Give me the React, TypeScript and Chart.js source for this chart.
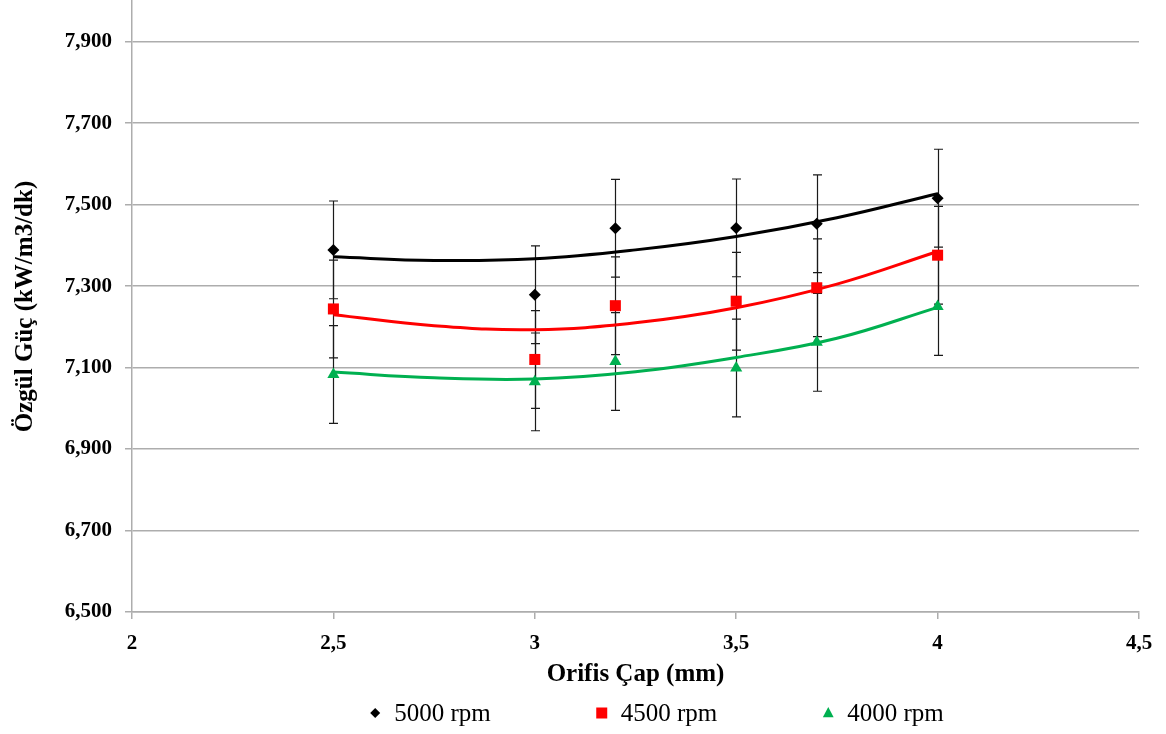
import React, { useEffect, useRef } from 'react';
import { Chart, registerables } from 'chart.js';

Chart.register(...registerables);

// ---- data ----
const X_VALUES = [2.5, 3, 3.2, 3.5, 3.7, 4];
const RPM5000 = [7.389, 7.279, 7.442, 7.443, 7.453, 7.516];
const RPM4500 = [7.244, 7.12, 7.252, 7.263, 7.296, 7.376];
const RPM4000 = [7.083, 7.065, 7.115, 7.099, 7.162, 7.25];
const ERR5000 = [0.12, 0.12, 0.12, 0.12, 0.12, 0.12];
const ERR4500 = [0.12, 0.12, 0.12, 0.12, 0.12, 0.12];
const ERR4000 = [0.12, 0.12, 0.12, 0.12, 0.12, 0.12];

// trend curves
const TREND_X = [2.5, 2.75, 3, 3.25, 3.5, 3.75, 4];
const TREND5000 = [7.372, 7.363, 7.367, 7.389, 7.422, 7.468, 7.527];
const TREND4500 = [7.23, 7.203, 7.193, 7.21, 7.247, 7.305, 7.385];
const TREND4000 = [7.089, 7.075, 7.072, 7.09, 7.125, 7.172, 7.248];

const SERIES_LABELS = ['5000 rpm', '4500 rpm', '4000 rpm'];
const X_TICKS = [2, 2.5, 3, 3.5, 4, 4.5];
const Y_TICKS = [6.5, 6.7, 6.9, 7.1, 7.3, 7.5, 7.7, 7.9];
const X_TITLE = 'Orifis Çap (mm)';
const Y_TITLE = 'Özgül Güç (kW/m3/dk)';

const SERIF = "'Liberation Serif', 'Times New Roman', serif";
const GRID = '#ADADAD';
const COLORS = ['#000000', '#FF0000', '#00B050'];
const STYLES = ['rectRot', 'rect', 'triangle'];

function toPts(xs: number[], ys: number[]) {
  return xs.map((x, i) => ({ x, y: ys[i] }));
}

function drawMarker(ctx: CanvasRenderingContext2D, style: string, x: number, y: number, color: string) {
  ctx.save();
  ctx.fillStyle = color;
  ctx.beginPath();
  if (style === 'rectRot') {
    const r = 5;
    ctx.moveTo(x - r, y);
    ctx.lineTo(x, y - r);
    ctx.lineTo(x + r, y);
    ctx.lineTo(x, y + r);
  } else if (style === 'rect') {
    const h = 5.5;
    ctx.rect(x - h, y - h, 2 * h, 2 * h);
  } else {
    const r = 6;
    ctx.moveTo(x, y - r);
    ctx.lineTo(x + r * 0.9, y + r * 0.7);
    ctx.lineTo(x - r * 0.9, y + r * 0.7);
  }
  ctx.closePath();
  ctx.fill();
  ctx.restore();
}

const errorBarPlugin = {
  id: 'errorBars',
  beforeDatasetsDraw(chart: any) {
    const ctx = chart.ctx;
    const yScale = chart.scales.y;
    ctx.save();
    ctx.strokeStyle = '#1a1a1a';
    ctx.lineWidth = 1.2;
    chart.data.datasets.forEach((ds: any, i: number) => {
      if (!ds.errors) return;
      const meta = chart.getDatasetMeta(i);
      meta.data.forEach((pt: any, j: number) => {
        const v = ds.data[j].y;
        const e = ds.errors[j];
        const x = Math.round(pt.x) + 0.5;
        const yTop = yScale.getPixelForValue(v + e);
        const yBot = yScale.getPixelForValue(v - e);
        ctx.beginPath();
        ctx.moveTo(x, yTop);
        ctx.lineTo(x, yBot);
        ctx.moveTo(x - 4.5, yTop);
        ctx.lineTo(x + 4.5, yTop);
        ctx.moveTo(x - 4.5, yBot);
        ctx.lineTo(x + 4.5, yBot);
        ctx.stroke();
      });
    });
    ctx.restore();
  },
};

const legendPlugin = {
  id: 'customLegend',
  afterDraw(chart: any) {
    const ctx = chart.ctx;
    ctx.save();
    ctx.font = `25px ${SERIF}`;
    ctx.textBaseline = 'middle';
    ctx.textAlign = 'left';
    const markerToText = 19;
    const gap = 111;
    const widths = SERIES_LABELS.map((t) => ctx.measureText(t).width);
    let total = 5;
    widths.forEach((w, i) => {
      total += markerToText + w + (i < widths.length - 1 ? gap : 0);
    });
    const centerX = 657;
    const y = 713;
    let x = centerX - total / 2 + 5;
    SERIES_LABELS.forEach((label, i) => {
      drawMarker(ctx, STYLES[i], x, y, COLORS[i]);
      ctx.fillStyle = '#000';
      ctx.fillText(label, x + markerToText, y + 1);
      x += markerToText + widths[i] + gap;
    });
    ctx.restore();
  },
};

export default function App() {
  const canvasRef = useRef<HTMLCanvasElement | null>(null);

  useEffect(() => {
    document.body.style.margin = '0';
    const canvas = canvasRef.current;
    if (!canvas) return;
    const pointSeries = [RPM5000, RPM4500, RPM4000];
    const errSeries = [ERR5000, ERR4500, ERR4000];
    const trendSeries = [TREND5000, TREND4500, TREND4000];
    const radii = [6, 7.8, 7];

    const datasets: any[] = [];
    trendSeries.forEach((t, i) => {
      datasets.push({
        label: SERIES_LABELS[i] + ' trend',
        data: toPts(TREND_X, t),
        showLine: true,
        borderColor: COLORS[i],
        borderWidth: 3,
        pointRadius: 0,
        pointHoverRadius: 0,
        tension: 0.4,
        fill: false,
        order: 2,
      });
    });
    pointSeries.forEach((s, i) => {
      datasets.push({
        label: SERIES_LABELS[i],
        data: toPts(X_VALUES, s),
        errors: errSeries[i],
        showLine: false,
        pointStyle: STYLES[i],
        pointRadius: radii[i],
        pointHoverRadius: radii[i],
        backgroundColor: COLORS[i],
        borderColor: COLORS[i],
        borderWidth: 0,
        order: 1,
      });
    });

    const chart = new Chart(canvas, {
      type: 'scatter',
      data: { datasets },
      plugins: [errorBarPlugin, legendPlugin],
      options: {
        animation: false,
        responsive: false,
        maintainAspectRatio: false,
        layout: { autoPadding: false, padding: { top: 1, left: 0, right: 27, bottom: 44 } },
        plugins: {
          legend: { display: false },
          tooltip: { enabled: false },
          title: { display: false },
        },
        scales: {
          x: {
            type: 'linear',
            position: 'bottom',
            min: 2,
            max: 4.5,
            afterBuildTicks: (s: any) => {
              s.ticks = X_TICKS.map((v) => ({ value: v }));
            },
            afterFit: (s: any) => {
              s.height = 78;
              s.paddingLeft = 0;
              s.paddingRight = 0;
            },
            ticks: {
              color: '#000',
              padding: 12,
              maxRotation: 0,
              autoSkip: false,
              font: { family: SERIF, size: 21, weight: 'bold' },
              callback: (v: any) => String(v).replace('.', ','),
            },
            grid: {
              drawOnChartArea: false,
              drawTicks: true,
              tickLength: 7,
              tickColor: GRID,
              lineWidth: 1.5,
              color: GRID,
            },
            border: { display: true, color: GRID, width: 1.5 },
            title: {
              display: true,
              text: X_TITLE,
              color: '#000',
              font: { family: SERIF, size: 25, weight: 'bold' },
              padding: { top: 0, bottom: 0 },
            },
          },
          y: {
            type: 'linear',
            min: 6.5,
            max: 8.0,
            afterBuildTicks: (s: any) => {
              s.ticks = Y_TICKS.map((v) => ({ value: v }));
            },
            afterFit: (s: any) => {
              s.width = 132;
              s.paddingTop = 0;
              s.paddingBottom = 0;
            },
            ticks: {
              color: '#000',
              padding: 13,
              autoSkip: false,
              font: { family: SERIF, size: 21, weight: 'bold' },
              callback: (v: any) => Number(v).toFixed(3).replace('.', ','),
            },
            grid: {
              color: GRID,
              lineWidth: 1.5,
              tickLength: 7,
              tickColor: GRID,
            },
            border: { display: true, color: GRID, width: 1.5 },
            title: {
              display: true,
              text: Y_TITLE,
              color: '#000',
              font: { family: SERIF, size: 25, weight: 'bold' },
              padding: { top: 11, bottom: 0 },
            },
          },
        },
      } as any,
    });
    return () => chart.destroy();
  }, []);

  return (
    <div style={{ width: 1166, height: 734, background: '#fff' }}>
      <canvas ref={canvasRef} width={1166} height={734} style={{ display: 'block' }} />
    </div>
  );
}
